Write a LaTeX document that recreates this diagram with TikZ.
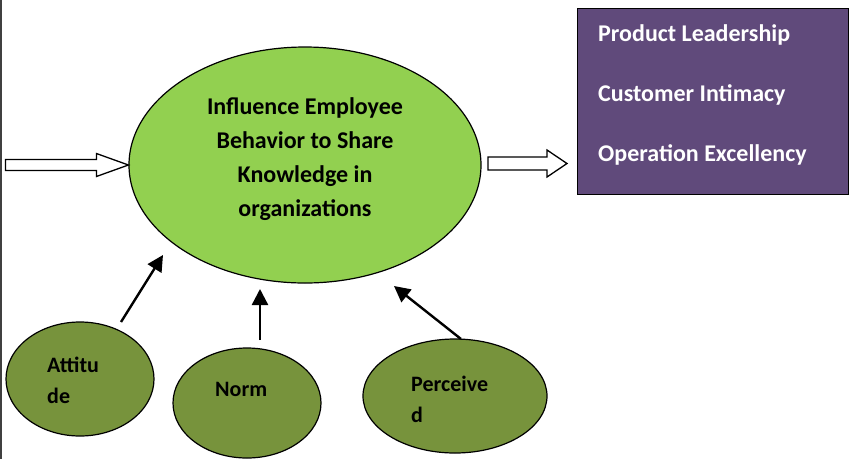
\documentclass[tikz,border=0pt]{standalone}
\usepackage{fontspec}
\setmainfont{Carlito}
\usetikzlibrary{shapes.geometric,arrows.meta}
\definecolor{leafgreen}{HTML}{92D050}
\definecolor{olivegreen}{HTML}{77933C}
\definecolor{plum}{HTML}{604A7B}
\begin{document}
\begin{tikzpicture}[x=1pt,y=-1pt,
    bigoval/.style={ellipse, draw, line width=1.2pt, fill=leafgreen, inner sep=0pt},
    smalloval/.style={ellipse, draw, line width=1.2pt, fill=olivegreen, inner sep=0pt},
    ovaltext/.style={inner sep=0pt, anchor=west, align=left, font=\fontsize{22}{31}\selectfont\bfseries},
    pusharrow/.style={draw, line width=1.3pt, fill=white},
    arr/.style={line width=2.4pt, -{Triangle[length=16pt,width=16pt]}}]
    \useasboundingbox (0,0) rectangle (849,459);

    % Borde izquierdo
    \draw[line width=1.5pt, black!75] (1,0) -- (1,459);

    % Elipse principal
    \node[bigoval, minimum width=352pt, minimum height=236pt] (main) at (305,165) {};
    \node[inner sep=0pt, align=center, font=\fontsize{24}{34}\selectfont\bfseries] (maintext) at (305,159)
        {Influence Employee\\Behavior to Share\\Knowledge in\\organizations};

    % Caja de resultados
    \node[draw, line width=1.2pt, fill=plum, inner sep=0pt, anchor=north west,
          minimum width=271pt, minimum height=186pt] (goals) at (577,8) {};
    \node[inner sep=0pt, anchor=west, align=left, text=white,
          font=\fontsize{24}{60}\selectfont\bfseries] (goalstext) at (598,95)
        {Product Leadership\\Customer Intimacy\\Operation Excellency};

    % Flechas huecas
    \coordinate (outtip) at (567,163.5);
    \draw[pusharrow] (main.west) -- ++(-32,-11.5) -- ++(0,6) -- ++(-91,0) -- ++(0,11) -- ++(91,0) -- ++(0,6) -- cycle;
    \draw[pusharrow] (outtip) -- ++(-20,-13.5) -- ++(0,7) -- ++(-59,0) -- ++(0,13) -- ++(59,0) -- ++(0,7) -- cycle;

    % Elipses pequenas
    \node[smalloval, minimum width=148pt, minimum height=114pt] (attitude) at (80,379) {};
    \node[smalloval, minimum width=148pt, minimum height=110pt] (norm) at (247,403) {};
    \node[smalloval, minimum width=184pt, minimum height=114pt] (perceived) at (455,396) {};

    \node[ovaltext] (attitudetext) at (47,380) {Attitu\\de};
    \node[ovaltext] (normtext) at (215,389) {Norm};
    \node[ovaltext] (perceivedtext) at (411,399) {Perceive\\d};

    % Flechas hacia la elipse principal
    \coordinate (att-from) at (121,322);
    \coordinate (att-to) at (163,255);
    \coordinate (norm-from) at (260,340);
    \coordinate (norm-to) at (260,289);
    \coordinate (perc-from) at (461,339);
    \coordinate (perc-to) at (394,286);
    \draw[arr] (att-from) -- (att-to);
    \draw[arr] (norm-from) -- (norm-to);
    \draw[arr] (perc-from) -- (perc-to);

\end{tikzpicture}
\end{document}
